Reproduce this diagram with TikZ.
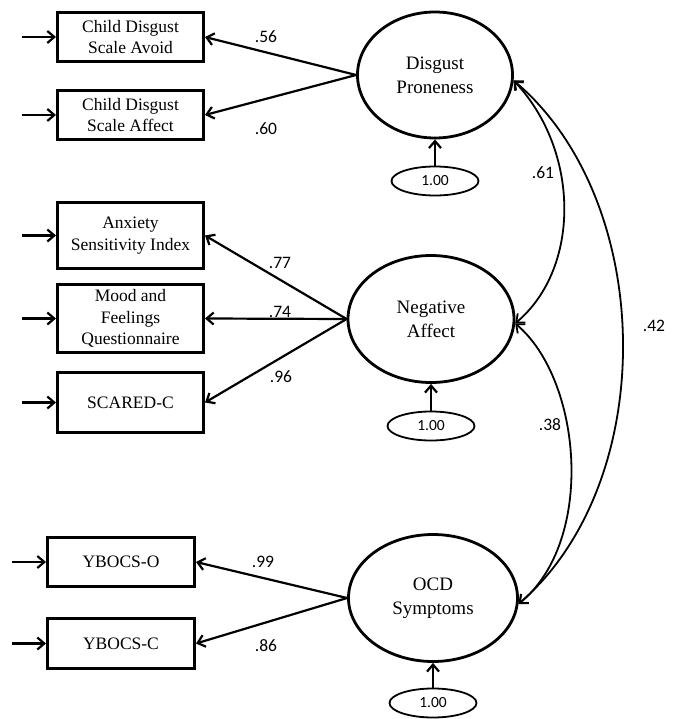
\documentclass[tikz,border=0pt]{standalone}
\usepackage{fontspec}
\setmainfont{Liberation Serif}
\newfontfamily\numfont{Carlito}
\usetikzlibrary{shapes.geometric,arrows.meta}

\tikzset{
	box/.style={draw, line width=3pt, minimum width=146pt, inner sep=2pt, align=center, font=\fontsize{17.5}{21.5}\selectfont},
	latent/.style={draw, ellipse, line width=2.8pt, inner sep=0pt, minimum height=126pt, align=center, font=\fontsize{19}{24}\selectfont},
	err/.style={draw, ellipse, line width=1.8pt, minimum width=87pt, minimum height=29pt, inner sep=0pt, font=\numfont\fontsize{15.5}{18}\selectfont},
	coef/.style={inner sep=0pt, font=\numfont\fontsize{17.5}{20}\selectfont},
	load/.style={->, line width=2.2pt},
	cov/.style={<->, line width=1.8pt},
}

\begin{document}
\begin{tikzpicture}[x=1pt, y=-1pt, >={Straight Barb[length=7pt,width=12pt]}]
	\useasboundingbox (0,0) rectangle (679,719);

	% observed measures
	\node[box, minimum height=49pt] (cdsav) at (130.5,37) {Child Disgust\\Scale Avoid};
	\node[box, minimum height=49pt] (cdsaf) at (130.5,115) {Child Disgust\\Scale Affect};
	\node[box, minimum height=66pt] (asi) at (130.5,235.5) {Anxiety\\Sensitivity Index};
	\node[box, minimum height=68pt] (mfq) at (130.5,318.5) {Mood and\\Feelings\\Questionnaire};
	\node[box, minimum height=60pt] (scared) at (130.5,402.5) {SCARED-C};
	\node[box, minimum width=147pt, minimum height=49pt] (ybo) at (121,562) {YBOCS-O};
	\node[box, minimum width=147pt, minimum height=50pt] (ybc) at (121,643.5) {YBOCS-C};

	\foreach \b in {cdsav, cdsaf, asi, mfq, scared, ybo, ybc}
		\draw[load] ([xshift=-34pt]\b.west) -- (\b.west);

	% latent factors
	\node[latent, minimum width=155pt] (dp) at (435,75) {Disgust\\Proneness};
	\node[latent, minimum width=166pt, minimum height=127pt] (na) at (431,319) {Negative\\Affect};
	\node[latent, minimum width=169pt, minimum height=127pt] (ocd) at (433,598) {OCD\\Symptoms};

	\node[err] (edp) at (435,181) {1.00};
	\node[err] (ena) at (431,426) {1.00};
	\node[err] (eocd) at (433,703) {1.00};
	\draw[load] (edp) -- (dp);
	\draw[load] (ena) -- (na);
	\draw[load] (eocd) -- (ocd);

	% loadings
	\draw[load] (dp.west) -- (cdsav.east);
	\draw[load] (dp.west) -- (cdsaf.east);
	\draw[load] (na.west) -- (asi.east);
	\draw[load] (na.west) -- (mfq.east);
	\draw[load] (na.west) -- (scared.east);
	\draw[load] (ocd.west) -- (ybo.east);
	\draw[load] (ocd.west) -- (ybc.east);

	\node[coef] (c56) at (266,37) {.56};
	\node[coef] (c60) at (266,129) {.60};
	\node[coef] (c77) at (280,263) {.77};
	\node[coef] (c74) at (280,312) {.74};
	\node[coef] (c96) at (281,377) {.96};
	\node[coef] (c99) at (263,562) {.99};
	\node[coef] (c86) at (266,646) {.86};

	% correlations
	\draw[cov] (dp.-4) .. controls +(66,70) and +(66,-56) .. (na.-3);
	\draw[cov] (na.-3) .. controls +(67,57) and +(77,-63) .. (ocd.-4);
	\draw[cov] (dp.-4) .. controls +(142,120) and +(142,-123) .. (ocd.-4);

	\node[coef] (c61) at (543,173) {.61};
	\node[coef] (c38) at (550,425) {.38};
	\node[coef] (c42) at (654,326) {.42};
\end{tikzpicture}
\end{document}
